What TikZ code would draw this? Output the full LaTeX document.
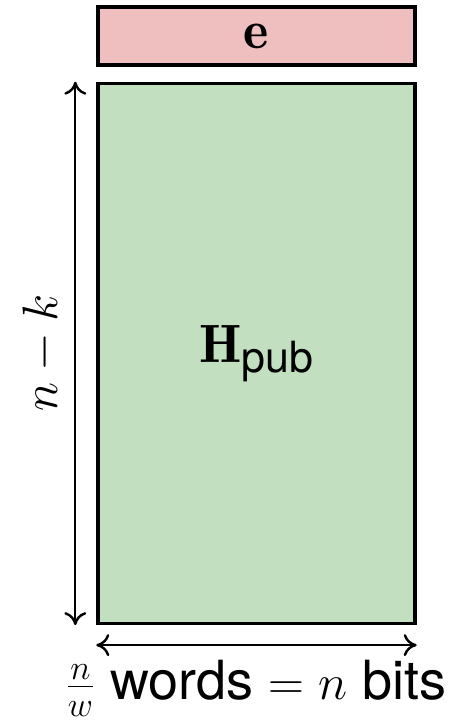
\documentclass[tikz,border=0pt]{standalone}
\usepackage{fontspec}
\setsansfont{TeX Gyre Heros}
\usetikzlibrary{arrows.meta,positioning,calc}
\definecolor{errred}{RGB}{239,190,190}
\definecolor{pubgreen}{RGB}{194,224,192}
\tikzset{every picture/.style={line width=1pt}}

\begin{document}
\begin{tikzpicture}[x=0.5pt,y=-0.5pt,
    block/.style={draw, line width=1.7pt, inner sep=0pt, minimum width=158.5pt},
    dimarrow/.style={{To[length=6.5pt,width=11pt]}-{To[length=6.5pt,width=11pt]}, line width=1.2pt},
    lbl/.style={font=\fontsize{27}{32}\selectfont\sffamily}]
    \useasboundingbox (0,0) rectangle (459,720);

    % error vector
    \node[block, fill=errred, minimum height=29pt, lbl] (err) at (256.5,36) {$\mathbf{e}$};

    % public key matrix
    \node[block, fill=pubgreen, minimum height=270pt, below=7.5pt of err, lbl] (pub) {$\mathbf{H}$\raisebox{-0.35ex}{\fontsize{21.5}{26}\selectfont pub}};

    % dimensions
    \coordinate (vtop) at ($(pub.north west)+(-21,0)$);
    \coordinate (vbot) at ($(pub.south west)+(-21,0)$);
    \draw[dimarrow] (vtop) -- (vbot);
    \node[lbl, rotate=90] (rows) at (42,353) {$n-k$};

    \coordinate (hleft) at ($(pub.south west)+(0,20)$);
    \coordinate (hright) at ($(pub.south east)+(0,20)$);
    \draw[dimarrow] (hleft) -- (hright);
    \node[lbl] (cols) at (256,688) {$\frac{n}{w}$ words $= n$ bits};
\end{tikzpicture}
\end{document}
